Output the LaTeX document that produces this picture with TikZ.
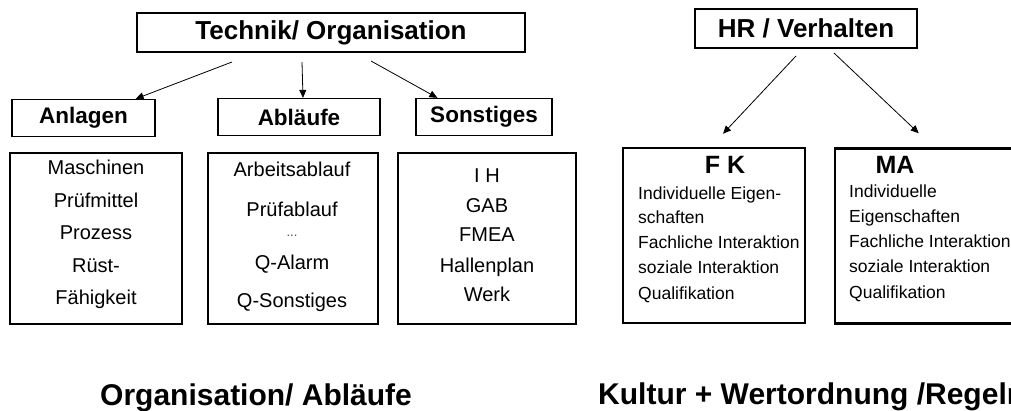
\documentclass[tikz,border=0pt]{standalone}
\usepackage{fontspec}
\setmainfont{Liberation Sans}
\usetikzlibrary{arrows.meta, positioning}

\begin{document}
\begin{tikzpicture}[
    x=1pt, y=-1pt,
    head/.style={rectangle, draw, line width=2pt, inner sep=0pt, minimum height=39pt,
                 font=\bfseries\fontsize{26}{30}\selectfont},
    sub/.style={rectangle, draw, line width=1.3pt, inner sep=0pt, minimum height=37pt,
                font=\bfseries\fontsize{22.5}{27}\selectfont},
    group/.style={rectangle, draw, line width=2.5pt, inner sep=0pt, minimum height=171pt},
    item/.style={anchor=base, inner sep=0pt, font=\fontsize{20}{24}\selectfont},
    trait/.style={anchor=base west, inner sep=0pt, font=\fontsize{17.5}{21}\selectfont},
    role/.style={anchor=base, inner sep=0pt, font=\bfseries\fontsize{25}{30}\selectfont},
    arrow/.style={-{Triangle[length=8pt, width=7pt]}, line width=0.8pt},
    title/.style={anchor=base west, inner sep=0pt, font=\bfseries\fontsize{30}{34}\selectfont}
]
\clip (0,0) rectangle (1011,410);

% left tree: Technik / Organisation
\node[head, minimum width=388pt] (tech) at (331,32.5) {Technik/ Organisation};
\node[sub, minimum width=143pt] (anl) at (83.5,118)  {Anlagen};
\node[sub, minimum width=162pt] (abl) at (299,117)   {Abläufe};
\node[sub, minimum width=136pt] (son) at (484,117)   {Sonstiges};

\draw[arrow] ([xshift=96pt, yshift=-9pt]tech.south west)  -- ([xshift=-20pt]anl.north east);
\draw[arrow] ([xshift=166pt, yshift=-9pt]tech.south west) -- ([xshift=4pt]abl.north);
\draw[arrow] ([xshift=235pt, yshift=-8pt]tech.south west) -- ([xshift=22pt]son.north west);

\node[group, minimum width=172pt] (masch)  at (96,238.5)  {};
\node[group, minimum width=170pt] (ablauf) at (293,238.5) {};
\node[group, minimum width=178pt] (sonst)  at (487,238.5) {};

\foreach \txt/\y [count=\i] in {Maschinen/174, Prüfmittel/207, Prozess/239, Rüst-/272, Fähigkeit/304}
  \node[item] (masch\i) at (96,\y) {\txt};
\foreach \txt/\y [count=\i] in {Arbeitsablauf/176, Prüfablauf/216, Q-Alarm/269, Q-Sonstiges/307}
  \node[item] (ablauf\i) at (292,\y) {\txt};
\node[item, font=\fontsize{13}{15}\selectfont, text=black!70] (dots) at (292,236) {...};
\foreach \txt/\y [count=\i] in {I H/182, GAB/212, FMEA/241, Hallenplan/272, Werk/301}
  \node[item] (sonst\i) at (487,\y) {\txt};

% right tree: HR / Verhalten
\node[head, minimum width=222pt] (hr) at (806,28.5) {HR / Verhalten};

\node[group, minimum width=182pt, minimum height=175pt] (fk) at (714,235.5) {};
\node[group, minimum width=194pt, minimum height=175pt] (ma) at (932,236)   {};

\draw[arrow] ([xshift=102pt, yshift=-7pt]hr.south west) -- ([xshift=9pt, yshift=13pt]fk.north);
\draw[arrow] ([xshift=140pt, yshift=-4pt]hr.south west) -- ([xshift=85pt, yshift=14pt]ma.north west);

\node[role] (fkname) at (725,173) {F K};
\node[role] (maname) at (895,173) {MA};
\foreach \txt/\y [count=\i] in {Individuelle Eigen-/199, schaften/223, Fachliche Interaktion/248,
                                soziale Interaktion/273, Qualifikation/299}
  \node[trait] (fk\i) at (638,\y) {\txt};
\foreach \txt/\y [count=\i] in {Individuelle/197, Eigenschaften/222, Fachliche Interaktion/247,
                                soziale Interaktion/272, Qualifikation/298}
  \node[trait] (ma\i) at (849,\y) {\txt};

% captions
\node[title] (orgtitle) at (100,405) {Organisation/ Abläufe};
\node[title] (kultitle) at (598,404) {Kultur + Wertordnung /Regeln};
\end{tikzpicture}
\end{document}
